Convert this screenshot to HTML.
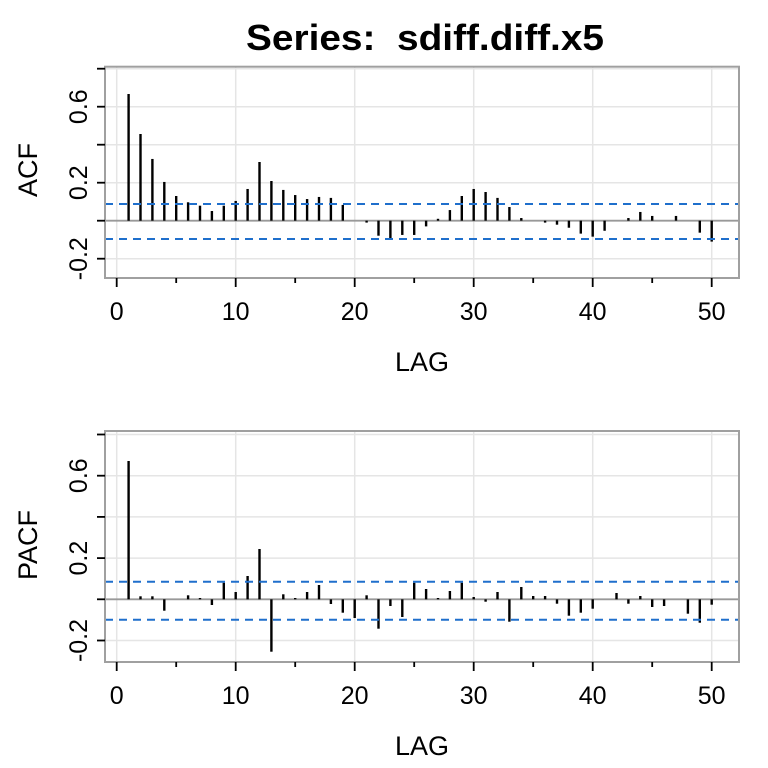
<!DOCTYPE html>
<html><head><meta charset="utf-8"><style>body{margin:0;background:#fff}svg{display:block}text{font-family:"Liberation Sans",Arial,sans-serif}</style></head>
<body>
<svg id="s" width="768" height="768" xmlns="http://www.w3.org/2000/svg">
<text x="425" y="50" font-size="36" font-weight="bold" text-anchor="middle" textLength="358" lengthAdjust="spacingAndGlyphs">Series:&#160; sdiff.diff.x5</text>
</svg>
<script>
const s=document.getElementById('s');let h='';
const X=l=>116.7+l*11.9;
function panel(top,bot,zero,unit,ub,lb,label,labY,vals,isPix){
 for(let l=0;l<=50;l+=10)h+=`<line x1="${X(l)}" x2="${X(l)}" y1="${top}" y2="${bot}" stroke="#e5e5e5" stroke-width="1.5"/>`;
 for(let v=-0.2;v<=0.81;v+=0.2){const y=zero-v*unit;if(y>top&&y<bot)h+=`<line x1="105" x2="739" y1="${y}" y2="${y}" stroke="#e5e5e5" stroke-width="1.5"/>`;}
 h+=`<line x1="105" x2="739" y1="${zero}" y2="${zero}" stroke="#999" stroke-width="1.8"/>`;
 vals.forEach((v,i)=>{if(v===null)return;const y=isPix?v:zero-v*unit;h+=`<line x1="${X(i+1)}" x2="${X(i+1)}" y1="${zero}" y2="${y}" stroke="#000" stroke-width="2.4"/>`;});
 h+=`<line x1="105" x2="739" y1="${ub}" y2="${ub}" stroke="#1f6fcc" stroke-width="2" stroke-dasharray="8,6"/>`;
 h+=`<line x1="105" x2="739" y1="${lb}" y2="${lb}" stroke="#1f6fcc" stroke-width="2" stroke-dasharray="8,6"/>`;
 h+=`<rect x="105" y="${top}" width="634" height="${bot-top}" fill="none" stroke="#a0a0a0" stroke-width="2"/>`;
 for(let l=0;l<=50;l+=5){h+=`<line x1="${X(l)}" x2="${X(l)}" y1="${bot}" y2="${bot+(l%10?5:9)}" stroke="#000" stroke-width="1.8"/>`;if(l%10==0)h+=`<text x="${X(l)}" y="${bot+42}" font-size="25" text-anchor="middle">${l}</text>`;}
 for(let k=-1;k<=4;k++){const v=k*0.2;const y=zero-v*unit;h+=`<line x1="97" x2="105" y1="${y}" y2="${y}" stroke="#000" stroke-width="1.8"/>`;if(k==-1||k==1||k==3)h+=`<text transform="translate(87,${y}) rotate(-90)" font-size="25" text-anchor="middle">${v.toFixed(1)}</text>`;}
 h+=`<text transform="translate(37,${labY}) rotate(-90)" font-size="27" text-anchor="middle">${label}</text>`;
 h+=`<text x="422" y="${bot+93}" font-size="27" text-anchor="middle">LAG</text>`;
}
const acf=[0.667,0.456,0.325,0.204,0.13,0.097,0.079,0.051,0.079,0.104,0.167,0.309,0.209,0.162,0.135,0.114,0.125,0.12,0.083,null,-0.01,-0.079,-0.1,-0.075,-0.075,-0.03,0.01,0.056,0.13,0.167,0.151,0.12,0.072,0.014,null,-0.01,-0.021,-0.037,-0.068,-0.084,-0.053,null,0.014,0.046,0.025,null,0.025,null,-0.063,-0.11];
panel(66.7,278,220.7,190,204,239,'ACF',170,acf,false);
const pacf=[461,596.3,596.3,610.7,null,595.3,598,605,582.7,592,576,549,651.7,594.3,598,592,585,604,612.7,618,595.3,628.7,606,617,582.7,589,598,591,582.7,597,601.7,592,621.7,587,596,596,603.7,615.7,612.7,608.7,null,593,603.7,596,607,606,null,613.7,622.7,604.7];
panel(431,662,599.3,206,581.7,619.7,'PACF',545,pacf,true);
s.insertAdjacentHTML('beforeend',h);
</script>
</body></html>
